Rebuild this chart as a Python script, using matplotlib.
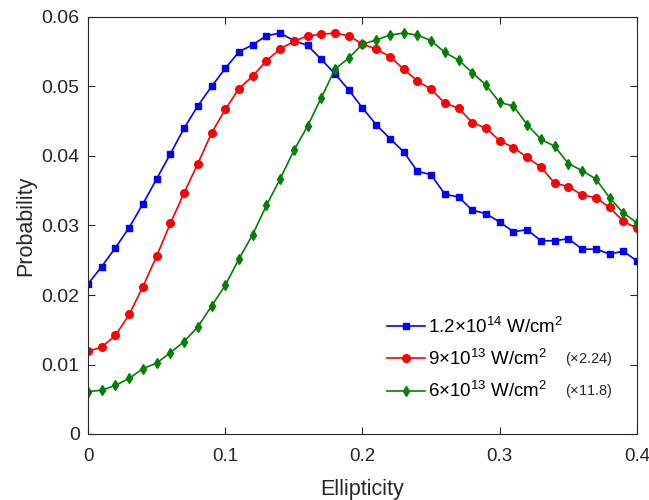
import numpy as np
import matplotlib.pyplot as plt
from matplotlib.ticker import FormatStrFormatter

plt.rcParams['font.family'] = ['Liberation Sans', 'DejaVu Sans']
plt.rcParams['mathtext.fontset'] = 'custom'
plt.rcParams['mathtext.rm'] = 'Liberation Sans'
plt.rcParams['mathtext.it'] = 'Liberation Sans:italic'

# ellipticity grid 0 .. 0.4
ellipticity = np.round(np.arange(41) * 0.01, 2)

prob_12e14 = [0.0216, 0.0241, 0.0268, 0.0297, 0.0331, 0.0367, 0.0403, 0.0440, 0.0472, 0.0500,
              0.0526, 0.0550, 0.0560, 0.0573, 0.0577, 0.0566, 0.0559, 0.0539, 0.0518, 0.0495,
              0.0469, 0.0445, 0.0425, 0.0406, 0.0378, 0.0373, 0.0345, 0.0341, 0.0322, 0.0317,
              0.0305, 0.0291, 0.0294, 0.0278, 0.0278, 0.0281, 0.0266, 0.0266, 0.0259, 0.0263,
              0.0249]
prob_9e13 = [0.0119, 0.0125, 0.0142, 0.0172, 0.0212, 0.0256, 0.0303, 0.0347, 0.0389, 0.0433,
             0.0467, 0.0497, 0.0515, 0.0537, 0.0554, 0.0565, 0.0573, 0.0575, 0.0577, 0.0573,
             0.0561, 0.0554, 0.0543, 0.0525, 0.0508, 0.0496, 0.0476, 0.0469, 0.0448, 0.0440,
             0.0422, 0.0412, 0.0398, 0.0384, 0.0361, 0.0356, 0.0344, 0.0340, 0.0326, 0.0306,
             0.0296]
prob_6e13 = [0.0061, 0.0063, 0.0070, 0.0080, 0.0094, 0.0102, 0.0117, 0.0133, 0.0154, 0.0184,
             0.0214, 0.0252, 0.0287, 0.0329, 0.0367, 0.0408, 0.0443, 0.0484, 0.0525, 0.0541,
             0.0561, 0.0567, 0.0574, 0.0577, 0.0574, 0.0566, 0.0549, 0.0538, 0.0520, 0.0502,
             0.0477, 0.0472, 0.0445, 0.0424, 0.0414, 0.0389, 0.0379, 0.0367, 0.0340, 0.0318,
             0.0304]

labels = [r'$1.2{\times}10^{14}$ W/cm$^2$', r'$9{\times}10^{13}$ W/cm$^2$', r'$6{\times}10^{13}$ W/cm$^2$']
scale_notes = ['', r'($\times$2.24)', r'($\times$11.8)']

fig = plt.figure(figsize=(6.49, 5.0), dpi=100)
ax = fig.add_axes([0.1356, 0.132, 0.8459, 0.834])

ax.plot(ellipticity, prob_12e14, '-s', color='blue', lw=1.2, ms=4.5, label=labels[0])
ax.plot(ellipticity, prob_9e13, '-o', color='red', lw=1.2, ms=5.5, label=labels[1])
ax.plot(ellipticity, prob_6e13, '-d', color='green', lw=1.2, ms=5.5, label=labels[2])

ax.set_xlim(0, 0.4)
ax.set_ylim(0, 0.06)
ax.set_xticks([0, 0.1, 0.2, 0.3, 0.4])
ax.set_yticks([0, 0.01, 0.02, 0.03, 0.04, 0.05, 0.06])
ax.xaxis.set_major_formatter(FormatStrFormatter('%g'))
ax.yaxis.set_major_formatter(FormatStrFormatter('%g'))
ax.tick_params(direction='in', top=True, right=True, length=5, width=0.8,
               color='#262626', labelsize=14, labelcolor='#262626')
ax.tick_params(axis='x', pad=10, labelsize=13.5)
ax.tick_params(axis='y', pad=6)
for s in ax.spines.values():
    s.set_color('#262626')
    s.set_linewidth(0.8)

ax.set_xlabel('Ellipticity', fontsize=15.5, color='#262626', labelpad=10)
ax.set_ylabel('Probability', fontsize=15.5, color='#262626', labelpad=4)

ax.legend(loc='center left', bbox_to_anchor=(0.5455, 0.18), frameon=False, fontsize=13.5,
          handlelength=2.0, handletextpad=0.15, labelspacing=0.66, borderpad=0,
          borderaxespad=0)
ax.text(0.868, 0.18, scale_notes[1], transform=ax.transAxes, fontsize=10.5, va='center',
        color='#262626')
ax.text(0.868, 0.104, scale_notes[2], transform=ax.transAxes, fontsize=10.5, va='center',
        color='#262626')

fig.savefig('out.png', dpi=100)
